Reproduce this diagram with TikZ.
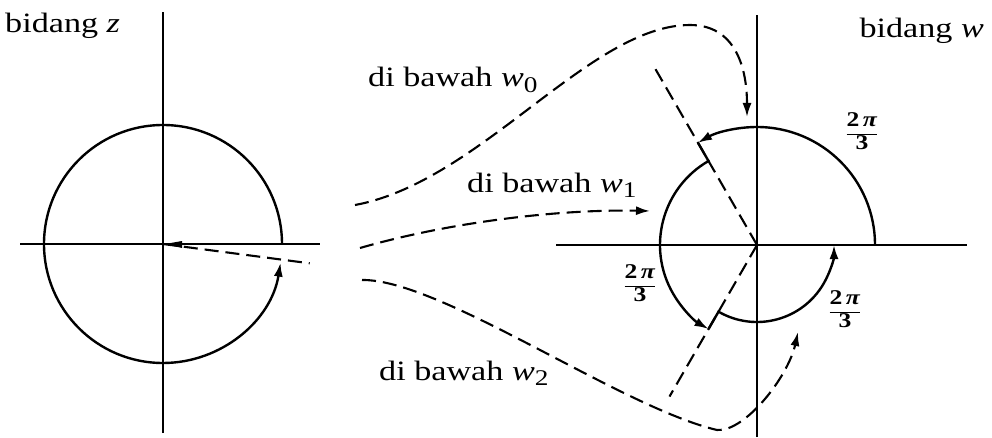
\documentclass[tikz,border=0pt]{standalone}
\usepackage{fontspec}
\usepackage{graphicx}
\setmainfont[FakeStretch=1.22]{Liberation Serif}
\usetikzlibrary{arrows.meta,calc}
\newcommand\wsub[1]{\textit{w}\raisebox{-0.45ex}{\scalebox{0.8}{#1}}}
\newcommand\twothirdpi{\setlength{\tabcolsep}{0pt}\renewcommand{\arraystretch}{0.85}%
  \begin{tabular}{c}2\,\textit{π}\\[1pt]\hline\rule{0pt}{15pt}3\end{tabular}}
\begin{document}
\begin{tikzpicture}[x=1pt,y=1pt,
  axis/.style={line width=2.4pt},
  curve/.style={line width=2.4pt},
  dsh/.style={line width=2.1pt,dash pattern=on 14pt off 7pt},
  tip/.style={-{Latex[length=14pt,width=9pt]}},
  lbl/.style={font=\fontsize{28}{31}\selectfont,inner sep=0pt},
  fraclbl/.style={font=\fontsize{21}{23}\selectfont\bfseries,inner sep=0pt}]
\useasboundingbox (0,0) rectangle (992,437);
\coordinate (Z) at (163,193);
\coordinate (W) at (757,192);
% z-plane
\draw[axis] (163,4) -- (163,425);
\draw[axis] (20,193) -- (320,193);
\draw[curve,tip] ($(Z)+(0:119pt)$) arc[start angle=0,end angle=351,radius=119pt];
\draw[dsh] (Z) -- ($(Z)+(-7.5:148pt)$);
\fill ($(Z)+(2,0)$) -- (182,196) -- (182,189) -- cycle;
\node[lbl,anchor=base west] (bz) at (5,404) {bidang \textit{z}};
% w-plane
\draw[axis] (757,0) -- (757,422);
\draw[axis] (556,192) -- (967,192);
\draw[curve,tip] ($(W)+(0:118pt)$) arc[start angle=0,end angle=120,radius=118pt];
\draw[curve,tip] ($(W)+(120:118pt)$) -- ($(W)+(120:97pt)$) arc[start angle=120,end angle=240,radius=97pt];
\draw[curve,tip] ($(W)+(240:97pt)$) -- ($(W)+(240:77pt)$) arc[start angle=240,end angle=360,radius=77pt];
\draw[dsh] (W) -- ($(W)+(120:207pt)$);
\draw[dsh] (W) -- ($(W)+(240:175pt)$);
\node[lbl,anchor=base east] (bw) at (984,399) {bidang \textit{w}};
\node[fraclbl] (f1) at (862,303) {\twothirdpi};
\node[fraclbl] (f2) at (640,151) {\twothirdpi};
\node[fraclbl] (f3) at (845,125) {\twothirdpi};
% connectors
\coordinate (s0) at (355,232);
\coordinate (p0) at (690,412);
\coordinate (e0) at (747,320);
\coordinate (s1) at (360,189);
\coordinate (e1) at (650,226);
\coordinate (s2) at (362,157);
\coordinate (p2) at (717,7);
\coordinate (e2) at (798,105);
\draw[dsh,tip] (s0) .. controls (480,255) and (590,412) .. (p0) .. controls (735,412) and (747,370) .. (e0);
\draw[dsh,tip] (s1) .. controls (450,215) and (560,228) .. (e1);
\draw[dsh,tip] (s2) .. controls (440,158) and (620,30) .. (p2) .. controls (745,5) and (788,60) .. (e2);
\node[lbl,anchor=base west] (l0) at (368,350) {di bawah \wsub{0}};
\node[lbl,anchor=base west] (l1) at (467,245) {di bawah \wsub{1}};
\node[lbl,anchor=base west] (l2) at (379,57) {di bawah \wsub{2}};
\end{tikzpicture}
\end{document}
